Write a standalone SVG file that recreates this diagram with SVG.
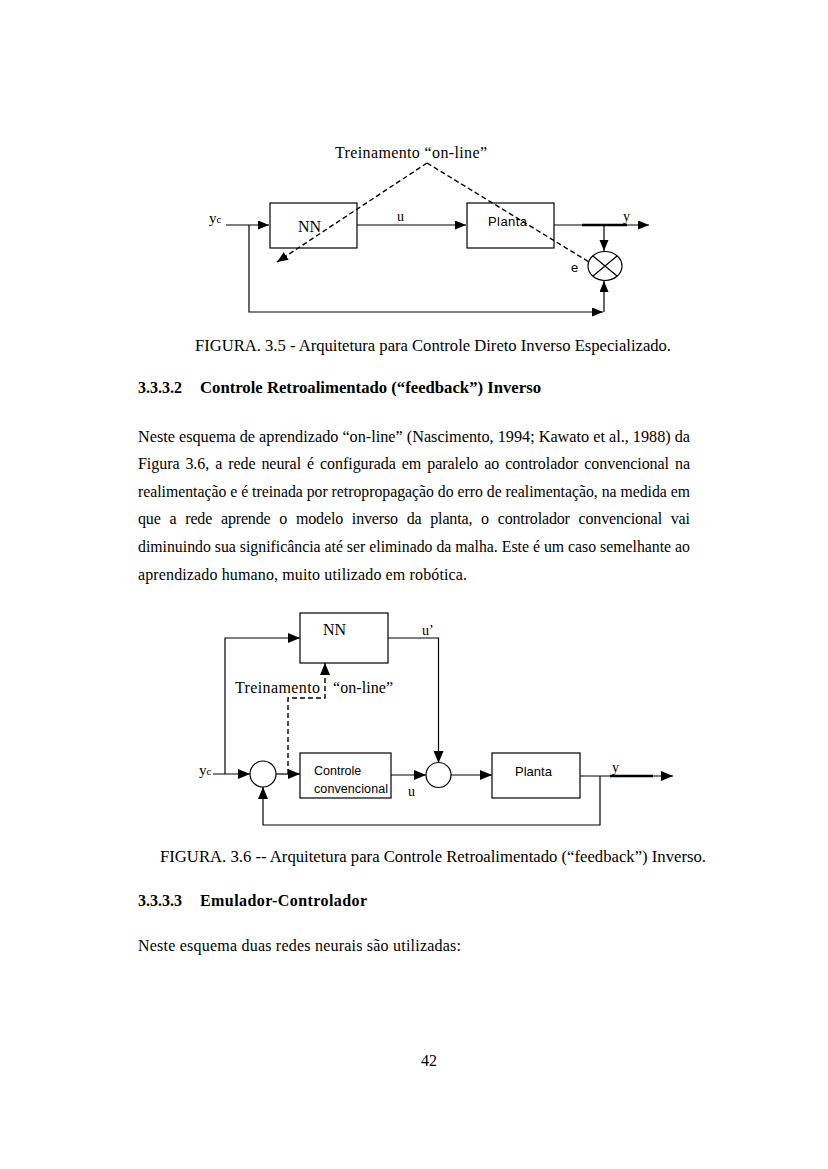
<svg xmlns="http://www.w3.org/2000/svg" width="828" height="1169" viewBox="0 0 828 1169">
<style>
.bg{fill:#fff}
.box{fill:none;stroke:#000;stroke-width:1.2}
.ln{fill:none;stroke:#000;stroke-width:1.2}
.thick{fill:none;stroke:#000;stroke-width:2.6}
.dash{fill:none;stroke:#000;stroke-width:1.4;stroke-dasharray:5 3}
.serif{font-family:"Liberation Serif","Times New Roman",serif;fill:#000}
.sans{font-family:"Liberation Sans",Arial,sans-serif;fill:#000}
.body{font-family:"Liberation Serif","Times New Roman",serif;font-size:16px;fill:#000}
.bold{font-weight:bold}
</style>
<defs>
<marker id="a1" markerUnits="userSpaceOnUse" markerWidth="12" markerHeight="10" refX="11" refY="4.5" orient="auto"><path d="M0,0 L11,4.5 L0,9 z" fill="#000"/></marker>
<marker id="a2" markerUnits="userSpaceOnUse" markerWidth="13" markerHeight="11" refX="12" refY="5" orient="auto"><path d="M0,0 L12,5 L0,10 z" fill="#000"/></marker>
</defs>
<rect class="bg" x="0" y="0" width="828" height="1169"/>

<!-- Figure 3.5 -->
<g id="fig1-connectors">
<path class="ln" d="M226,225 H269" marker-end="url(#a1)"/>
<path class="ln" d="M357,225 H466" marker-end="url(#a1)"/>
<path class="ln" d="M554,225 H649" marker-end="url(#a1)"/>
<path class="thick" d="M582,225 H627"/>
<path class="ln" d="M604,225 V251" marker-end="url(#a1)"/>
<path class="ln" d="M249,225 V312 H603" marker-end="url(#a1)"/>
<path class="ln" d="M604,312 V281" marker-end="url(#a1)"/>
<path class="dash" d="M427,163 L277,262" marker-end="url(#a1)"/>
<path class="dash" d="M427,163 L589,262"/>
</g>
<g id="fig1-nn">
<rect class="box" x="270" y="203" width="87" height="45"/>
<text class="serif" x="298" y="232" font-size="16">NN</text>
</g>
<g id="fig1-planta">
<rect class="box" x="467" y="203" width="87" height="45"/>
<text class="sans" x="488" y="226" font-size="13" textLength="39">Planta</text>
</g>
<g id="fig1-sum">
<ellipse class="box" cx="605" cy="266" rx="17" ry="14.5"/>
<path class="ln" d="M593,256 L617,276 M617,256 L593,276"/>
</g>
<g id="fig1-labels">
<text class="serif" x="335" y="158" font-size="16" textLength="152">Treinamento “on-line”</text>
<text class="serif" x="209" y="223" font-size="15">y<tspan font-size="11">c</tspan></text>
<text class="serif" x="397" y="221" font-size="14">u</text>
<text class="serif" x="623" y="221" font-size="14">y</text>
<text class="sans" x="571" y="272" font-size="13">e</text>
</g>
<text class="body" x="195" y="351" textLength="476" lengthAdjust="spacingAndGlyphs">FIGURA. 3.5 - Arquitetura para Controle Direto Inverso Especializado.</text>

<text class="body bold" x="138" y="393">3.3.3.2</text>
<text class="body bold" x="200" y="393" textLength="341" lengthAdjust="spacingAndGlyphs">Controle Retroalimentado (“feedback”) Inverso</text>

<text class="body" x="138" y="442" textLength="552" lengthAdjust="spacingAndGlyphs">Neste esquema de aprendizado “on-line” (Nascimento, 1994; Kawato et al., 1988) da</text>
<text class="body" x="138" y="469" textLength="552" word-spacing="2">Figura 3.6, a rede neural é configurada em paralelo ao controlador convencional na</text>
<text class="body" x="138" y="497" textLength="552" lengthAdjust="spacingAndGlyphs">realimentação e é treinada por retropropagação do erro de realimentação, na medida em</text>
<text class="body" x="138" y="524" textLength="552" word-spacing="5">que a rede aprende o modelo inverso da planta, o controlador convencional vai</text>
<text class="body" x="138" y="552" textLength="552" lengthAdjust="spacingAndGlyphs">diminuindo sua significância até ser eliminado da malha. Este é um caso semelhante ao</text>
<text class="body" x="138" y="580" textLength="329">aprendizado humano, muito utilizado em robótica.</text>

<!-- Figure 3.6 -->
<g id="fig2-connectors">
<path class="ln" d="M213,774 H250" marker-end="url(#a2)"/>
<path class="ln" d="M225,774 V638 H300" marker-end="url(#a2)"/>
<path class="ln" d="M276,774 H300" marker-end="url(#a2)"/>
<path class="ln" d="M388,638 H438.5 V763" marker-end="url(#a2)"/>
<path class="ln" d="M391,775 H426" marker-end="url(#a2)"/>
<path class="ln" d="M451,775 H492" marker-end="url(#a2)"/>
<path class="ln" d="M580,776 H673" marker-end="url(#a2)"/>
<path class="thick" d="M610,776 H653"/>
<path class="ln" d="M600,776 V825 H263 V787" marker-end="url(#a2)"/>
<path class="dash" d="M288,774 V698 H325 V663" marker-end="url(#a2)"/>
</g>
<g id="fig2-nn">
<rect class="box" x="300" y="613" width="88" height="50"/>
<text class="serif" x="323" y="635" font-size="16">NN</text>
</g>
<g id="fig2-sum1">
<circle class="box" cx="263" cy="774" r="13"/>
</g>
<g id="fig2-controle">
<rect class="box" x="300" y="753" width="91" height="45"/>
<text class="sans" x="314" y="775" font-size="12.5">Controle</text>
<text class="sans" x="314" y="793" font-size="12.5" textLength="74">convencional</text>
</g>
<g id="fig2-sum2">
<circle class="box" cx="438.5" cy="775" r="12.5"/>
</g>
<g id="fig2-planta">
<rect class="box" x="492" y="753" width="88" height="45"/>
<text class="sans" x="515" y="776" font-size="13" textLength="37">Planta</text>
</g>
<g id="fig2-labels">
<text class="serif" x="235" y="693" font-size="16" textLength="85">Treinamento</text>
<text class="serif" x="333" y="693" font-size="16" textLength="60">“on-line”</text>
<text class="serif" x="422" y="635" font-size="14">u’</text>
<text class="serif" x="199" y="775" font-size="15">y<tspan font-size="11">c</tspan></text>
<text class="serif" x="408" y="796" font-size="14">u</text>
<text class="serif" x="612" y="772" font-size="14">y</text>
</g>
<text class="body" x="160" y="862" textLength="546" lengthAdjust="spacingAndGlyphs">FIGURA. 3.6 -- Arquitetura para Controle Retroalimentado (“feedback”) Inverso.</text>

<text class="body bold" x="138" y="906">3.3.3.3</text>
<text class="body bold" x="200" y="906" textLength="167">Emulador-Controlador</text>
<text class="body" x="138" y="951" textLength="323">Neste esquema duas redes neurais são utilizadas:</text>

<text class="body" x="421" y="1066">42</text>
</svg>
